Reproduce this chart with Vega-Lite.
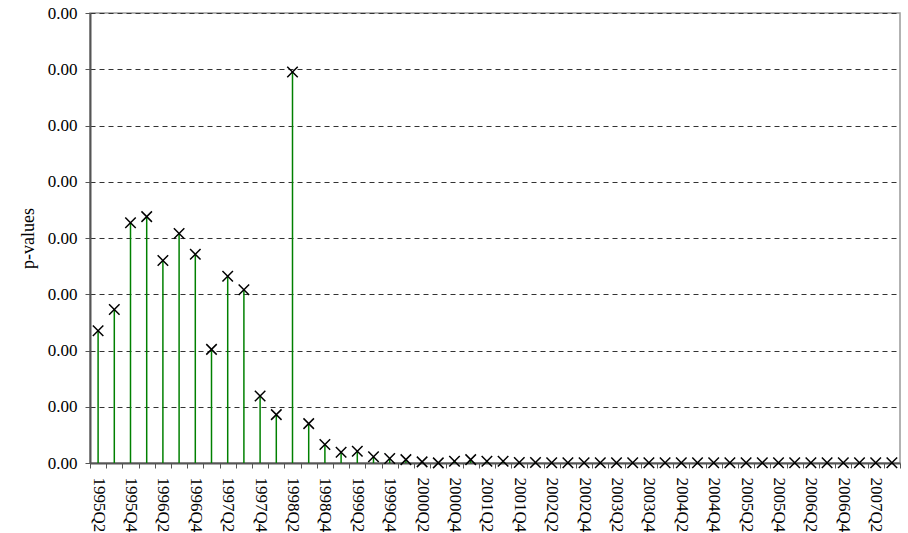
{
  "$schema": "https://vega.github.io/schema/vega-lite/v6.json",
  "width": 810,
  "height": 450,
  "autosize": {"type": "none"},
  "padding": {"left": 90, "top": 13, "right": 8, "bottom": 70},
  "background": "white",
  "config": {
    "view": {"stroke": "#999", "strokeWidth": 1.5},
    "font": "Liberation Serif"
  },
  "data": {
    "values": [
      {"q": "1995Q2", "p": 0.001175},
      {"q": "1995Q3", "p": 0.001365},
      {"q": "1995Q4", "p": 0.002135},
      {"q": "1996Q1", "p": 0.00219},
      {"q": "1996Q2", "p": 0.0018},
      {"q": "1996Q3", "p": 0.00204},
      {"q": "1996Q4", "p": 0.001855},
      {"q": "1997Q1", "p": 0.00101},
      {"q": "1997Q2", "p": 0.00166},
      {"q": "1997Q3", "p": 0.00154},
      {"q": "1997Q4", "p": 0.000595},
      {"q": "1998Q1", "p": 0.00043},
      {"q": "1998Q2", "p": 0.003475},
      {"q": "1998Q3", "p": 0.00035},
      {"q": "1998Q4", "p": 0.000165},
      {"q": "1999Q1", "p": 0.000095},
      {"q": "1999Q2", "p": 0.000105},
      {"q": "1999Q3", "p": 0.000055},
      {"q": "1999Q4", "p": 0.00004},
      {"q": "2000Q1", "p": 0.00003},
      {"q": "2000Q2", "p": 0.00001},
      {"q": "2000Q3", "p": 0.000001},
      {"q": "2000Q4", "p": 0.000015},
      {"q": "2001Q1", "p": 0.00003},
      {"q": "2001Q2", "p": 0.000015},
      {"q": "2001Q3", "p": 0.000015},
      {"q": "2001Q4", "p": 0.000005},
      {"q": "2002Q1", "p": 0.000005},
      {"q": "2002Q2", "p": 0.0000025},
      {"q": "2002Q3", "p": 0.000002},
      {"q": "2002Q4", "p": 0.0000025},
      {"q": "2003Q1", "p": 0.000002},
      {"q": "2003Q2", "p": 0.0000025},
      {"q": "2003Q3", "p": 0.000002},
      {"q": "2003Q4", "p": 0.000002},
      {"q": "2004Q1", "p": 0.000002},
      {"q": "2004Q2", "p": 0.000002},
      {"q": "2004Q3", "p": 0.000002},
      {"q": "2004Q4", "p": 0.000002},
      {"q": "2005Q1", "p": 0.000002},
      {"q": "2005Q2", "p": 0.000002},
      {"q": "2005Q3", "p": 0.000002},
      {"q": "2005Q4", "p": 0.000002},
      {"q": "2006Q1", "p": 0.000002},
      {"q": "2006Q2", "p": 0.000002},
      {"q": "2006Q3", "p": 0.000002},
      {"q": "2006Q4", "p": 0.000002},
      {"q": "2007Q1", "p": 0.000002},
      {"q": "2007Q2", "p": 0.000002},
      {"q": "2007Q3", "p": 0.000002}
    ]
  },
  "encoding": {
    "x": {
      "field": "q",
      "type": "nominal",
      "sort": null,
      "scale": {"paddingInner": 0, "paddingOuter": 0},
      "axis": {
        "title": null,
        "labelAngle": 90,
        "labelFont": "Liberation Serif",
        "labelFontSize": 17,
        "labelColor": "#000",
        "labelPadding": 9,
        "labelOverlap": false,
        "labelExpr": "(indexof(datum.label,'Q1')>=0 || indexof(datum.label,'Q3')>=0) ? '' : datum.label",
        "tickBand": "extent",
        "tickSize": 5,
        "tickColor": "#555",
        "domainColor": "#555",
        "domainWidth": 2,
        "grid": false
      }
    },
    "y": {
      "field": "p",
      "type": "quantitative",
      "scale": {"domain": [0, 0.004], "nice": false},
      "axis": {
        "title": "p-values",
        "titleFont": "Liberation Serif",
        "titleFontSize": 18,
        "titleFontWeight": "normal",
        "titleColor": "#000",
        "titlePadding": 10,
        "values": [0, 0.0005, 0.001, 0.0015, 0.002, 0.0025, 0.003, 0.0035, 0.004],
        "format": ".2f",
        "labelFont": "Liberation Serif",
        "labelFontSize": 17,
        "labelColor": "#000",
        "labelPadding": 8,
        "tickSize": 5,
        "tickColor": "#555",
        "domainColor": "#555",
        "domainWidth": 2,
        "grid": true,
        "gridColor": "#333",
        "gridDash": [5, 4],
        "gridWidth": 1
      }
    }
  },
  "layer": [
    {
      "mark": {"type": "rule", "color": "#008000", "strokeWidth": 1.5},
      "encoding": {"y2": {"datum": 0}}
    },
    {
      "mark": {
        "type": "point",
        "shape": "M-1,-1L1,1M-1,1L1,-1",
        "filled": false,
        "stroke": "#000",
        "strokeWidth": 1.5,
        "size": 110,
        "opacity": 1
      }
    }
  ]
}
